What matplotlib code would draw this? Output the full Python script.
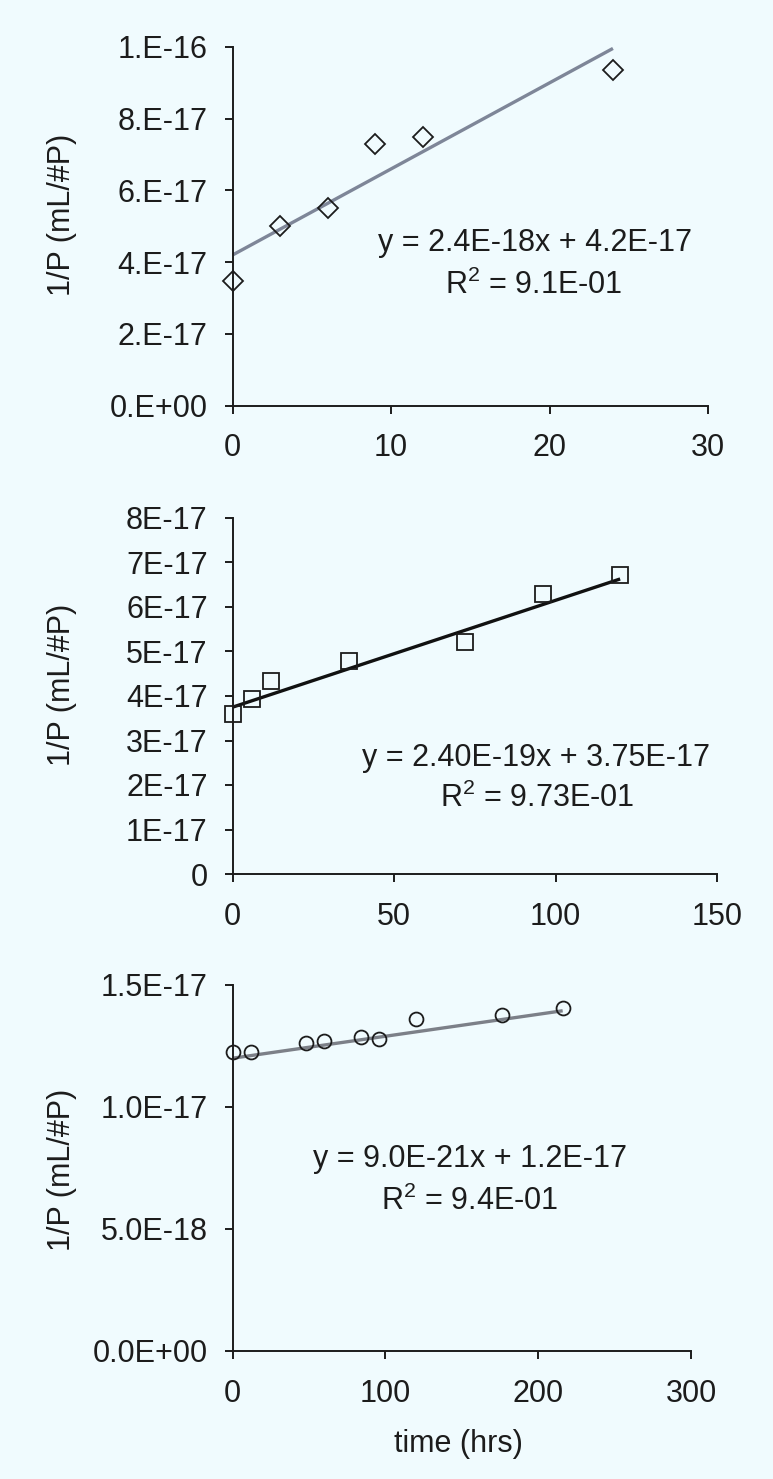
import numpy as np
import matplotlib
matplotlib.use("Agg")
import matplotlib.pyplot as plt

# ---- data -------------------------------------------------------------
# panel A
t_a = [0, 3, 6, 9, 12, 24]
inv_p_a = [3.47e-17, 5.01e-17, 5.50e-17, 7.30e-17, 7.50e-17, 9.36e-17]
slope_a, icpt_a = 2.4e-18, 4.2e-17
eq_a = "y = 2.4E-18x + 4.2E-17"
r2_txt_a = "9.1E-01"
yticks_a = [0, 2e-17, 4e-17, 6e-17, 8e-17, 1e-16]
ylabels_a = ["0.E+00", "2.E-17", "4.E-17", "6.E-17", "8.E-17", "1.E-16"]
xticks_a = [0, 10, 20, 30]

# panel B
t_b = [0, 6, 12, 36, 72, 96, 120]
inv_p_b = [3.60e-17, 3.94e-17, 4.33e-17, 4.78e-17, 5.22e-17, 6.29e-17, 6.72e-17]
slope_b, icpt_b = 2.40e-19, 3.75e-17
eq_b = "y = 2.40E-19x + 3.75E-17"
r2_txt_b = "9.73E-01"
yticks_b = [0, 1e-17, 2e-17, 3e-17, 4e-17, 5e-17, 6e-17, 7e-17, 8e-17]
ylabels_b = ["0", "1E-17", "2E-17", "3E-17", "4E-17", "5E-17", "6E-17", "7E-17", "8E-17"]
xticks_b = [0, 50, 100, 150]

# panel C
t_c = [0, 12, 48, 60, 84, 96, 120, 176, 216]
inv_p_c = [1.224e-17, 1.224e-17, 1.261e-17, 1.272e-17, 1.285e-17, 1.278e-17,
           1.362e-17, 1.379e-17, 1.406e-17]
slope_c, icpt_c = 9.0e-21, 1.2e-17
eq_c = "y = 9.0E-21x + 1.2E-17"
r2_txt_c = "9.4E-01"
yticks_c = [0, 5e-18, 1e-17, 1.5e-17]
ylabels_c = ["0.0E+00", "5.0E-18", "1.0E-17", "1.5E-17"]
xticks_c = [0, 100, 200, 300]

# ---- style ------------------------------------------------------------
plt.rcParams["font.family"] = ["Liberation Sans", "DejaVu Sans"]
plt.rcParams["mathtext.fontset"] = "custom"
plt.rcParams["mathtext.rm"] = "Liberation Sans"
plt.rcParams["mathtext.it"] = "Liberation Sans"
plt.rcParams["mathtext.bf"] = "Liberation Sans"

BG = "#F0FBFE"
INK = "#1c1c1c"
FS = 22

W, H = 773, 1479
fig = plt.figure(figsize=(W / 100, H / 100), dpi=100, facecolor=BG)


def px_axes(left, top, right, bottom):
    return fig.add_axes([left / W, 1 - bottom / H, (right - left) / W, (bottom - top) / H])


def style(ax, xticks, yticks, ylabels, xmax, ymax, label_y):
    ax.set_facecolor(BG)
    for s in ("top", "right"):
        ax.spines[s].set_visible(False)
    for s in ("left", "bottom"):
        ax.spines[s].set_linewidth(1.4)
        ax.spines[s].set_color(INK)
    ax.set_xlim(0, xmax)
    ax.set_ylim(0, ymax)
    ax.set_xticks(xticks)
    ax.set_xticklabels([str(v) for v in xticks])
    ax.set_yticks(yticks)
    ax.set_yticklabels(ylabels)
    ax.tick_params(axis="both", direction="out", length=6, width=1.4, color=INK,
                   labelsize=FS, labelcolor=INK)
    ax.tick_params(axis="y", pad=12)
    ax.tick_params(axis="x", pad=14)
    ax.set_ylabel("1/P (mL/#P)", fontsize=FS, color=INK, va="center")
    ax.yaxis.set_label_coords(62 / W, 1 - label_y / H, transform=fig.transFigure)
    for sp in ax.spines.values():
        sp.set_clip_on(False)


# panel A: diamonds with grey-blue trend line
ax1 = px_axes(232.7, 47, 708, 405.5)
style(ax1, xticks_a, yticks_a, ylabels_a, 30, 1e-16, 215)
xa = np.array([min(t_a), max(t_a)])
ax1.plot(xa, slope_a * xa + icpt_a, color="#7E8698", lw=2.4, zorder=2,
         solid_capstyle="butt", clip_on=False)
ax1.plot(t_a, inv_p_a, ls="none", marker="D", ms=10, mfc="none", mec=INK,
         mew=1.3, zorder=3, clip_on=False)
ax1.text(0.636, 0.452, eq_a, transform=ax1.transAxes, ha="center", va="center",
         fontsize=FS, color=INK)
ax1.text(0.633, 0.335, "R$^{2}$ = " + r2_txt_a, transform=ax1.transAxes,
         ha="center", va="center", fontsize=FS, color=INK)

# panel B: squares with black trend line
ax2 = px_axes(232.7, 518, 717, 874)
style(ax2, xticks_b, yticks_b, ylabels_b, 150, 8e-17, 685)
xb = np.array([min(t_b), max(t_b)])
ax2.plot(xb, slope_b * xb + icpt_b, color="#111111", lw=2.4, zorder=2,
         solid_capstyle="butt", clip_on=False)
ax2.plot(t_b, inv_p_b, ls="none", marker="s", ms=11, mfc="none", mec=INK,
         mew=1.3, zorder=3, clip_on=False)
ax2.text(0.627, 0.325, eq_b, transform=ax2.transAxes, ha="center", va="center",
         fontsize=FS, color=INK)
ax2.text(0.629, 0.212, "R$^{2}$ = " + r2_txt_b, transform=ax2.transAxes,
         ha="center", va="center", fontsize=FS, color=INK)

# panel C: circles with grey trend line
ax3 = px_axes(232.7, 985, 691, 1351)
style(ax3, xticks_c, yticks_c, ylabels_c, 300, 1.5e-17, 1170)
xc = np.array([min(t_c), max(t_c)])
ax3.plot(xc, slope_c * xc + icpt_c, color="#7C8088", lw=2.4, zorder=2,
         solid_capstyle="butt", clip_on=False)
ax3.plot(t_c, inv_p_c, ls="none", marker="o", ms=10, mfc="none", mec=INK,
         mew=1.3, zorder=3, clip_on=False)
ax3.text(0.518, 0.524, eq_c, transform=ax3.transAxes, ha="center", va="center",
         fontsize=FS, color=INK)
ax3.text(0.516, 0.410, "R$^{2}$ = " + r2_txt_c, transform=ax3.transAxes,
         ha="center", va="center", fontsize=FS, color=INK)
ax3.set_xlabel("time (hrs)", fontsize=FS, color=INK)
ax3.xaxis.set_label_coords(458 / W, 1 - 1444 / H, transform=fig.transFigure)
ax3.xaxis.label.set_va("center")

fig.savefig("out.png", dpi=100, facecolor=BG)
